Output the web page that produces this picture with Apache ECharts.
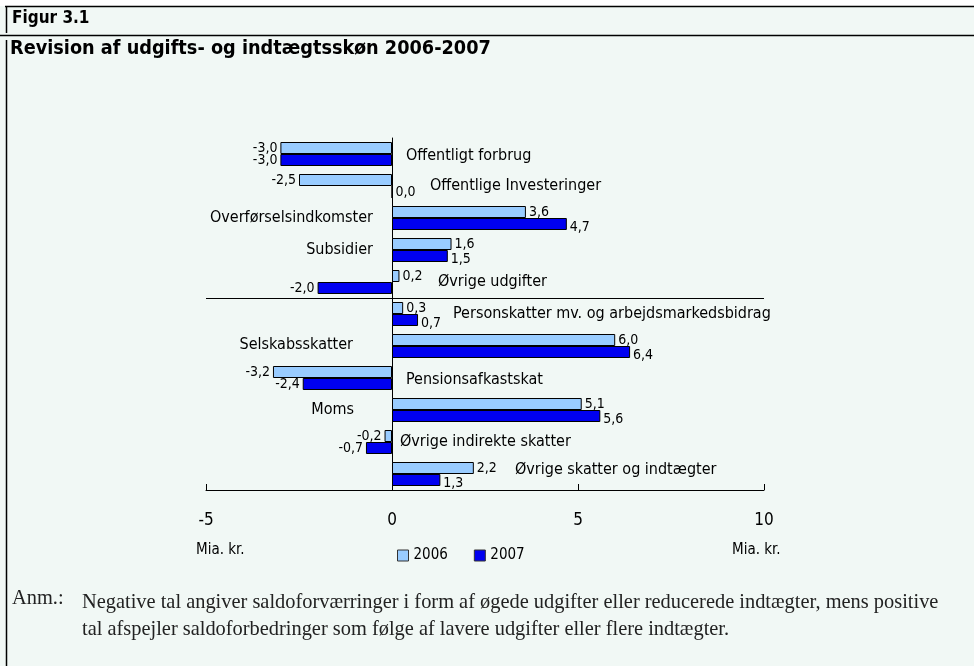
<!DOCTYPE html>
<html>
<head>
<meta charset="utf-8">
<script src="https://cdn.jsdelivr.net/npm/echarts@6/dist/echarts.min.js"></script>
<style>
  html, body { margin: 0; padding: 0; background: #fff; }
  #chart { width: 974px; height: 666px; }
</style>
</head>
<body>
<div id="chart"></div>
<script>
// kategorier (oppefra og ned)
const categories = [
  "Offentligt forbrug",
  "Offentlige Investeringer",
  "Overførselsindkomster",
  "Subsidier",
  "Øvrige udgifter",
  "Personskatter mv. og arbejdsmarkedsbidrag",
  "Selskabsskatter",
  "Pensionsafkastskat",
  "Moms",
  "Øvrige indirekte skatter",
  "Øvrige skatter og indtægter"
];
const values2006 = [-3.0, -2.5, 3.6, 1.6, 0.2, 0.3, 6.0, -3.2, 5.1, -0.2, 2.2];
const values2007 = [-3.0, 0.0, 4.7, 1.5, -2.0, 0.7, 6.4, -2.4, 5.6, -0.7, 1.3];
const seriesNames = ["2006", "2007"];
const xTicks = [-5, 0, 5, 10];

// placering af kategorinavne (kun layout)
const nameSide = ["right", "right", "left", "left", "right", "right", "left", "right", "left", "right", "right"];
const nameDx = [14, 38, -19, -19, 46, 61, -39, 14, -38, 8, 123];
const nameDy = [2, 0, 0, 0, 0, 0, -1, 2, 0, 0, -4];

const fmt = v => v.toFixed(1).replace(".", ",");
const labelFont = "'Liberation Sans Narrow', 'DejaVu Sans Condensed', sans-serif";

const chart = echarts.init(document.getElementById("chart"));

function barData(vals, dy) {
  return vals.map(v => ({
    value: v,
    label: { position: v < 0 ? "left" : "right", offset: [0, v > 0 ? dy : 0] }
  }));
}

const option = {
  backgroundColor: "#f1f8f5",
  animation: false,
  grid: { left: 206, right: 210, top: 138, bottom: 176 },
  legend: {
    data: seriesNames,
    left: 392, top: 543,
    itemWidth: 11, itemHeight: 11, itemGap: 26,
    icon: "rect",
    itemStyle: { borderWidth: 1, borderColor: "#333" },
    textStyle: { fontFamily: labelFont, fontSize: 15, color: "#000" }
  },
  xAxis: {
    type: "value",
    min: xTicks[0], max: xTicks[xTicks.length - 1], interval: 5,
    axisLine: { show: true, lineStyle: { color: "#000", width: 1 } },
    axisTick: { show: true, inside: true, length: 6, lineStyle: { color: "#000" } },
    axisLabel: { margin: 22, fontFamily: labelFont, fontSize: 17, color: "#000" },
    splitLine: { show: false }
  },
  yAxis: {
    type: "category",
    inverse: true,
    data: categories,
    axisLine: { show: true, onZero: true, lineStyle: { color: "#000", width: 1 } },
    axisTick: { show: false },
    axisLabel: { show: false },
    // skillelinje mellem udgifter og indtægter
    splitLine: {
      show: true,
      interval: (index) => index === 0 || index === 5,
      showMinLine: false,
      showMaxLine: false,
      lineStyle: { color: "#000", width: 1 }
    }
  },
  series: [
    {
      name: seriesNames[0],
      type: "bar",
      barWidth: 12,
      barGap: "0%",
      data: barData(values2006, 0),
      itemStyle: { color: "#99ccff", borderColor: "#000", borderWidth: 1 },
      label: {
        show: true, distance: 3,
        formatter: p => fmt(p.value),
        fontFamily: labelFont, fontSize: 14, color: "#000"
      }
    },
    {
      name: seriesNames[1],
      type: "bar",
      barWidth: 12,
      barGap: "0%",
      data: barData(values2007, 3),
      itemStyle: { color: "#0000f0", borderColor: "#000", borderWidth: 1 },
      label: {
        show: true, distance: 3,
        formatter: p => fmt(p.value),
        fontFamily: labelFont, fontSize: 14, color: "#000"
      }
    },
    {
      name: "navne",
      type: "scatter",
      silent: true,
      symbolSize: 0,
      itemStyle: { color: "#000" },
      data: categories.map((c, i) => ({
        value: [0, c],
        label: { position: nameSide[i], offset: [nameDx[i], nameDy[i]] }
      })),
      label: {
        show: true, distance: 0,
        formatter: p => p.value[1],
        fontFamily: labelFont, fontSize: 16, color: "#000", opacity: 1
      }
    }
  ],
  graphic: [
    { type: "rect", shape: { x: 0, y: 0, width: 974, height: 6 }, style: { fill: "#fff" }, silent: true },
    { type: "line", shape: { x1: 5, y1: 6.5, x2: 974, y2: 6.5 }, style: { stroke: "#000", lineWidth: 1.5 } },
    { type: "line", shape: { x1: 6.5, y1: 6, x2: 6.5, y2: 33 }, style: { stroke: "#000", lineWidth: 1.5 } },
    { type: "line", shape: { x1: 0, y1: 35.5, x2: 974, y2: 35.5 }, style: { stroke: "#000", lineWidth: 1.5 } },
    { type: "line", shape: { x1: 6.5, y1: 40, x2: 6.5, y2: 666 }, style: { stroke: "#000", lineWidth: 1.5 } },
    {
      type: "text", left: 12, top: 10,
      style: { text: "Figur 3.1", font: "bold 17px 'DejaVu Sans Condensed', sans-serif", fill: "#000" }
    },
    {
      type: "text", left: 10, top: 39,
      style: { text: "Revision af udgifts- og indtægtsskøn 2006-2007", font: "bold 19.7px 'DejaVu Sans Condensed', sans-serif", fill: "#000" }
    },
    {
      type: "text", left: 196, top: 543,
      style: { text: "Mia. kr.", font: "15px " + labelFont, fill: "#000" }
    },
    {
      type: "text", left: 732, top: 543,
      style: { text: "Mia. kr.", font: "15px " + labelFont, fill: "#000" }
    },
    {
      type: "text", left: 12, top: 589,
      style: { text: "Anm.:", font: "20.4px 'Liberation Serif', serif", fill: "#222" }
    },
    {
      type: "text", left: 82, top: 589,
      style: {
        text: "Negative tal angiver saldoforværringer i form af øgede udgifter eller reducerede indtægter, mens positive\ntal afspejler saldoforbedringer som følge af lavere udgifter eller flere indtægter.",
        font: "20.4px 'Liberation Serif', serif", lineHeight: 27, fill: "#222"
      }
    }
  ]
};

chart.setOption(option);
</script>
</body>
</html>
